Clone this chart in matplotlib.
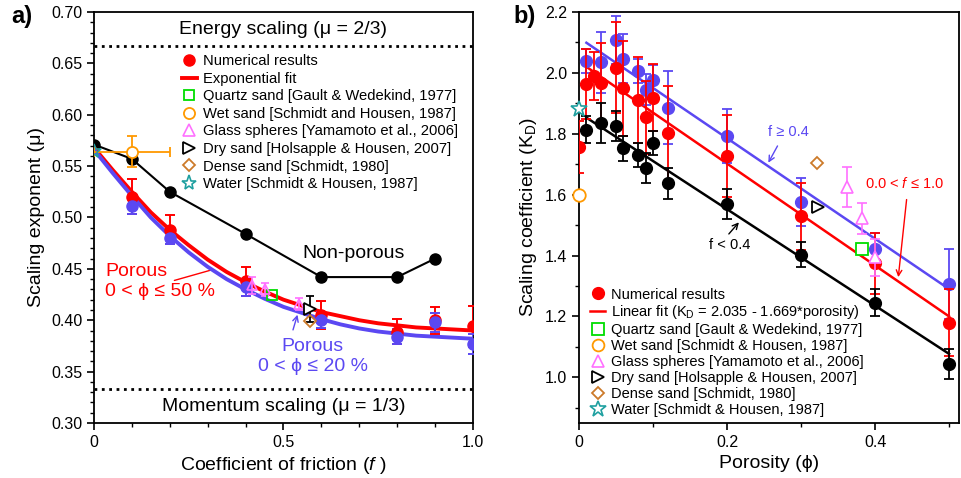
import numpy as np
import matplotlib
matplotlib.use('Agg')
import matplotlib.pyplot as plt
from matplotlib.ticker import MultipleLocator, FormatStrFormatter
from matplotlib.lines import Line2D

plt.rcParams['font.family'] = ['Liberation Sans', 'DejaVu Sans']
plt.rcParams['mathtext.fontset'] = 'custom'
plt.rcParams['mathtext.rm'] = 'Liberation Sans'
plt.rcParams['mathtext.it'] = 'Liberation Sans:italic'

RED = '#ff0000'
BLUE = '#5b48f2'
PINK = '#ff70ff'
GREEN = '#00dd00'
ORANGE = '#ff9900'
BROWN = '#cc7a2a'
TEAL = '#1fa0a0'

# ---------------- panel a data ----------------
fric = [0.1, 0.2, 0.4, 0.6, 0.8, 0.9, 1.0]
mu_red = [0.520, 0.488, 0.438, 0.405, 0.389, 0.400, 0.394]
mu_red_err = [0.017, 0.014, 0.014, 0.014, 0.012, 0.013, 0.020]
mu_blue = [0.511, 0.480, 0.432, 0.400, 0.384, 0.398, 0.377]
mu_blue_err = [0.008, 0.006, 0.008, 0.008, 0.007, 0.009, 0.010]

fric_np = [0.0, 0.1, 0.2, 0.4, 0.6, 0.8, 0.9]
mu_np = [0.571, 0.557, 0.525, 0.484, 0.442, 0.442, 0.460]

fit_f = [0.0, 0.05, 0.1, 0.15, 0.2, 0.25, 0.3, 0.35, 0.4, 0.45, 0.5,
         0.55, 0.6, 0.65, 0.7, 0.75, 0.8, 0.85, 0.9, 0.95, 1.0]
fit_red = [0.568, 0.546, 0.525, 0.505, 0.488, 0.473, 0.459, 0.447, 0.437, 0.428, 0.420,
           0.414, 0.408, 0.404, 0.400, 0.397, 0.395, 0.393, 0.392, 0.391, 0.390]
fit_blue = [0.566, 0.543, 0.521, 0.500, 0.482, 0.466, 0.452, 0.440, 0.430, 0.421, 0.413,
            0.407, 0.401, 0.396, 0.392, 0.389, 0.387, 0.385, 0.384, 0.383, 0.382]

glass_f = [0.417, 0.45, 0.54]
glass_mu = [0.434, 0.430, 0.416]
glass_err = [0.008, 0.006, 0.006]
quartz_a = (0.47, 0.4245)
wet_a = (0.1, 0.564)
wet_a_yerr = 0.015
wet_a_xerr = 0.1
dry_a = (0.571, 0.411)
dry_a_err = 0.013
dense_a = (0.57, 0.399)
water_a = (0.0, 0.565)

# ---------------- panel b data ----------------
phi_c = [0.01, 0.03, 0.05, 0.06, 0.08, 0.09, 0.10, 0.12, 0.2, 0.3, 0.4, 0.5]
kd_blue = [2.039, 2.035, 2.108, 2.047, 2.006, 1.945, 1.976, 1.885, 1.793, 1.576, 1.423, 1.308]
kd_blue_err = [0.04, 0.10, 0.08, 0.08, 0.04, 0.05, 0.05, 0.12, 0.09, 0.08, 0.05, 0.115]

phi_r = [0.0, 0.01, 0.02, 0.03, 0.05, 0.06, 0.08, 0.09, 0.10, 0.12, 0.2, 0.3, 0.4, 0.5]
kd_red = [1.757, 1.962, 1.990, 1.968, 2.017, 1.949, 1.911, 1.854, 1.918, 1.801, 1.727, 1.529, 1.374, 1.180]
kd_red_err = [0.085, 0.115, 0.08, 0.13, 0.15, 0.155, 0.14, 0.12, 0.11, 0.155, 0.135, 0.11, 0.10, 0.11]

phi_k = [0.01, 0.03, 0.05, 0.06, 0.08, 0.09, 0.10, 0.12, 0.2, 0.3, 0.4, 0.5]
kd_black = [1.814, 1.836, 1.826, 1.752, 1.730, 1.688, 1.770, 1.637, 1.569, 1.403, 1.245, 1.043]
kd_black_err = [0.045, 0.065, 0.05, 0.04, 0.04, 0.05, 0.04, 0.05, 0.05, 0.04, 0.045, 0.05]

line_phi = [0.01, 0.5]
line_blue = [2.099, 1.290]
line_red = [2.020, 1.200]
line_black = [1.853, 1.077]

glass_phi = [0.362, 0.383, 0.40]
glass_kd = [1.626, 1.522, 1.394]
glass_kd_err = [0.065, 0.05, 0.06]
quartz_b = (0.382, 1.423)
wet_b = (0.0, 1.60)
dry_b = (0.323, 1.56)
dense_b = (0.322, 1.703)
water_b = (0.0, 1.88)

fig = plt.figure(figsize=(9.61, 4.78), dpi=100)
ax1 = fig.add_axes([0.0978, 0.1151, 0.3944, 0.8598])
ax2 = fig.add_axes([0.6025, 0.1151, 0.3955, 0.8598])

TICK = 11.5
LAB = 14

# ---------------- panel a ----------------
ax1.axhline(2 / 3, color='black', ls=':', lw=2)
ax1.axhline(1 / 3, color='black', ls=':', lw=2)
ax1.plot(fric_np, mu_np, '-o', color='black', lw=1.5, ms=8, zorder=3)
ax1.plot(fit_f, fit_red, color=RED, lw=2.8, zorder=4)
ax1.plot(fit_f, fit_blue, color=BLUE, lw=2.8, zorder=4)
ax1.errorbar(fric, mu_red, yerr=mu_red_err, fmt='o', color=RED, ms=8,
             capsize=3.5, elinewidth=1.4, capthick=1.4, zorder=5)
ax1.errorbar(fric, mu_blue, yerr=mu_blue_err, fmt='o', color=BLUE, ms=8,
             capsize=3.5, elinewidth=1.4, capthick=1.4, zorder=5)
ax1.errorbar(glass_f, glass_mu, yerr=glass_err, fmt='^', color=PINK, mfc='none',
             ms=7, mew=1.2, capsize=3, elinewidth=1.2, zorder=6)
ax1.plot(*quartz_a, 's', color=GREEN, mfc='none', ms=7, mew=1.3, zorder=6)
ax1.errorbar([wet_a[0]], [wet_a[1]], yerr=wet_a_yerr, xerr=wet_a_xerr, fmt='o',
             color=ORANGE, mfc='white', ms=8, mew=1.3, capsize=3.5, elinewidth=1.3, zorder=6)
ax1.errorbar([dry_a[0]], [dry_a[1]], yerr=dry_a_err, fmt='>', color='black', mfc='white',
             ms=8, mew=1.3, capsize=3, elinewidth=1.3, zorder=6)
ax1.plot(*dense_a, 'D', color=BROWN, mfc='none', ms=6, mew=1.3, zorder=6)
ax1.plot(*water_a, '*', color=TEAL, mfc='none', ms=10, mew=1.2, zorder=7)

ax1.text(0.5, 0.683, 'Energy scaling (\u03bc = 2/3)', ha='center', va='center', fontsize=LAB)
ax1.text(0.5, 0.316, 'Momentum scaling (\u03bc = 1/3)', ha='center', va='center', fontsize=LAB)
ax1.text(0.685, 0.465, 'Non-porous', ha='center', va='center', fontsize=LAB)
ax1.text(0.03, 0.438, 'Porous\n0 < \u03d5 \u2264 50 %', color=RED, ha='left', va='center',
         fontsize=LAB, linespacing=1.25)
ax1.annotate('', xy=(0.32, 0.450), xytext=(0.205, 0.438),
             arrowprops=dict(arrowstyle='-', color=RED, lw=1))
ax1.text(0.577, 0.365, 'Porous\n0 < \u03d5 \u2264 20 %', color=BLUE, ha='center', va='center',
         fontsize=LAB, linespacing=1.25)
ax1.annotate('', xy=(0.539, 0.408), xytext=(0.523, 0.388),
             arrowprops=dict(arrowstyle='->', color=BLUE, lw=1))

ax1.set_xlim(0, 1.0)
ax1.set_ylim(0.30, 0.70)
ax1.xaxis.set_minor_locator(MultipleLocator(0.1))
ax1.yaxis.set_major_locator(MultipleLocator(0.05))
ax1.yaxis.set_minor_locator(MultipleLocator(0.01))
ax1.yaxis.set_major_formatter(FormatStrFormatter('%.2f'))
ax1.set_xticks([0, 0.5, 1.0])
ax1.set_xticklabels(['0', '0.5', '1.0'])
ax1.set_xlabel('Coefficient of friction ($\\mathit{f}$ )', fontsize=LAB)
ax1.set_ylabel('Scaling exponent (\u03bc)', fontsize=LAB)

h_a = [
    Line2D([], [], ls='none', marker='o', color=RED, ms=8),
    Line2D([], [], color=RED, lw=2.8),
    Line2D([], [], ls='none', marker='s', color=GREEN, mfc='none', ms=7, mew=1.3),
    Line2D([], [], ls='none', marker='o', color=ORANGE, mfc='none', ms=8, mew=1.3),
    Line2D([], [], ls='none', marker='^', color=PINK, mfc='none', ms=8, mew=1.2),
    Line2D([], [], ls='none', marker='>', color='black', mfc='none', ms=8, mew=1.3),
    Line2D([], [], ls='none', marker='D', color=BROWN, mfc='none', ms=6, mew=1.3),
    Line2D([], [], ls='none', marker='*', color=TEAL, mfc='none', ms=11, mew=1.2),
]
l_a = ['Numerical results', 'Exponential fit', 'Quartz sand [Gault & Wedekind, 1977]',
       'Wet sand [Schmidt and Housen, 1987]', 'Glass spheres [Yamamoto et al., 2006]',
       'Dry sand [Holsapple & Housen, 2007]', 'Dense sand [Schmidt, 1980]',
       'Water [Schmidt & Housen, 1987]']
ax1.legend(h_a, l_a, loc='upper left', bbox_to_anchor=(0.232, 0.897), frameon=False,
           fontsize=10.6, handlelength=1.0, handletextpad=0.4, labelspacing=0.24,
           borderaxespad=0, borderpad=0)

# ---------------- panel b ----------------
ax2.plot(line_phi, line_blue, color=BLUE, lw=1.8, zorder=3)
ax2.plot(line_phi, line_red, color=RED, lw=1.8, zorder=3)
ax2.plot(line_phi, line_black, color='black', lw=1.8, zorder=3)
ax2.errorbar(phi_c, kd_blue, yerr=kd_blue_err, fmt='o', color=BLUE, ms=8.5,
             capsize=3.5, elinewidth=1.3, capthick=1.3, zorder=4)
ax2.errorbar(phi_r, kd_red, yerr=kd_red_err, fmt='o', color=RED, ms=8.5,
             capsize=3.5, elinewidth=1.3, capthick=1.3, zorder=5)
ax2.errorbar(phi_k, kd_black, yerr=kd_black_err, fmt='o', color='black', ms=8.5,
             capsize=3.5, elinewidth=1.3, capthick=1.3, zorder=5)
ax2.errorbar(glass_phi, glass_kd, yerr=glass_kd_err, fmt='^', color=PINK, mfc='white',
             ms=8, mew=1.2, capsize=3.5, elinewidth=1.2, zorder=6)
ax2.plot(*quartz_b, 's', color=GREEN, mfc='white', ms=8, mew=1.3, zorder=6)
ax2.plot(*wet_b, 'o', color=ORANGE, mfc='white', ms=9, mew=1.3, zorder=6, clip_on=False)
ax2.plot(*dry_b, '>', color='black', mfc='white', ms=8, mew=1.3, zorder=6)
ax2.plot(*dense_b, 'D', color=BROWN, mfc='white', ms=6.5, mew=1.3, zorder=6)
ax2.plot(*water_b, '*', color=TEAL, mfc='white', ms=12, mew=1.2, zorder=7, clip_on=False)

ax2.text(0.283, 1.805, 'f \u2265 0.4', color=BLUE, ha='center', va='center', fontsize=10.5)
ax2.annotate('', xy=(0.254, 1.697), xytext=(0.27, 1.768),
             arrowprops=dict(arrowstyle='->', color=BLUE, lw=1))
ax2.text(0.44, 1.637, '0.0 < $\\mathit{f}$ \u2264 1.0', color=RED, ha='center', va='center',
         fontsize=10.5)
ax2.annotate('', xy=(0.431, 1.32), xytext=(0.443, 1.593),
             arrowprops=dict(arrowstyle='->', color=RED, lw=1))
ax2.text(0.203, 1.434, 'f < 0.4', color='black', ha='center', va='center', fontsize=10.5)
ax2.annotate('', xy=(0.2185, 1.516), xytext=(0.2, 1.464),
             arrowprops=dict(arrowstyle='->', color='black', lw=1))

ax2.set_xlim(0, 0.5135)
ax2.set_ylim(0.85, 2.2)
ax2.xaxis.set_minor_locator(MultipleLocator(0.1))
ax2.yaxis.set_major_locator(MultipleLocator(0.2))
ax2.yaxis.set_minor_locator(MultipleLocator(0.1))
ax2.yaxis.set_major_formatter(FormatStrFormatter('%.1f'))
ax2.set_xticks([0, 0.2, 0.4])
ax2.set_xticklabels(['0', '0.2', '0.4'])
ax2.set_xlabel('Porosity (\u03d5)', fontsize=LAB)
ax2.set_ylabel('Scaling coefficient (K$_\\mathregular{D}$)', fontsize=LAB)

h_b = [
    Line2D([], [], ls='none', marker='o', color=RED, ms=8.5),
    Line2D([], [], color=RED, lw=1.8),
    Line2D([], [], ls='none', marker='s', color=GREEN, mfc='none', ms=8, mew=1.3),
    Line2D([], [], ls='none', marker='o', color=ORANGE, mfc='none', ms=8.5, mew=1.3),
    Line2D([], [], ls='none', marker='^', color=PINK, mfc='none', ms=8, mew=1.2),
    Line2D([], [], ls='none', marker='>', color='black', mfc='none', ms=8, mew=1.3),
    Line2D([], [], ls='none', marker='D', color=BROWN, mfc='none', ms=6.5, mew=1.3),
    Line2D([], [], ls='none', marker='*', color=TEAL, mfc='none', ms=12, mew=1.2),
]
l_b = ['Numerical results', 'Linear fit (K$_\\mathregular{D}$ = 2.035 - 1.669*porosity)',
       'Quartz sand [Gault & Wedekind, 1977]', 'Wet sand [Schmidt & Housen, 1987]',
       'Glass spheres [Yamamoto et al., 2006]', 'Dry sand [Holsapple & Housen, 2007]',
       'Dense sand [Schmidt, 1980]', 'Water [Schmidt & Housen, 1987]']
ax2.legend(h_b, l_b, loc='lower left', bbox_to_anchor=(0.03, 0.015), frameon=False,
           fontsize=10.5, handlelength=1.0, handletextpad=0.4, labelspacing=0.13,
           borderaxespad=0, borderpad=0)

for ax in (ax1, ax2):
    ax.tick_params(which='major', labelsize=TICK, length=5, width=1.2, direction='out')
    ax.tick_params(which='minor', length=3, width=1)
    for s in ax.spines.values():
        s.set_linewidth(1.3)

fig.text(0.012, 0.965, 'a)', fontsize=17, fontweight='bold', va='center')
fig.text(0.534, 0.965, 'b)', fontsize=17, fontweight='bold', va='center')

fig.savefig('out.png', dpi=100)
